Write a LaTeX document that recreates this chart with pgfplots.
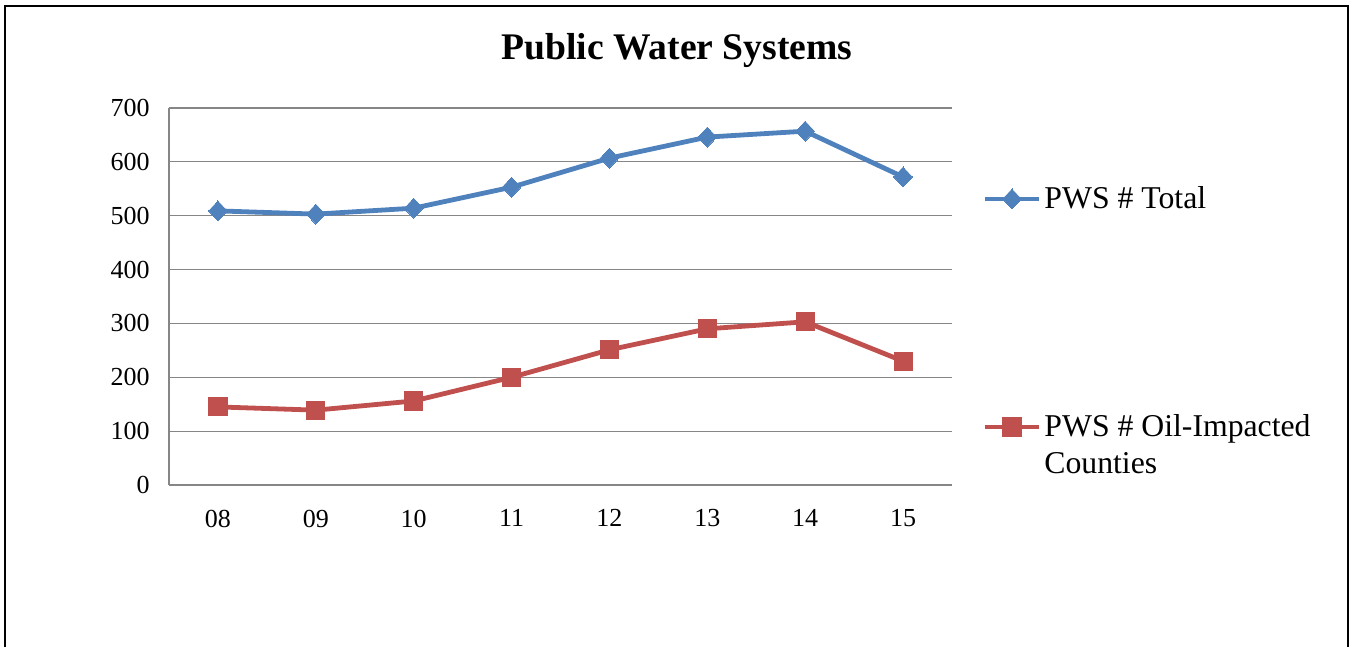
\documentclass[border=0pt]{standalone}
\usepackage{pgfplots}
\pgfplotsset{compat=1.18}
\usepackage{fontspec}
\setmainfont{Liberation Serif}
\definecolor{pwsblue}{HTML}{4F81BD}
\definecolor{pwsred}{HTML}{C0504D}
\definecolor{gridgray}{HTML}{868686}
\begin{document}
\begin{tikzpicture}[x=0.75pt,y=0.75pt]
\useasboundingbox (0,0) rectangle (1351,647);
\draw[line width=1.6pt,black] (5,0) -- (5,641) -- (1348,641) -- (1348,0);
\node[font=\fontsize{28.2}{32}\selectfont\bfseries] at (677,596) {Public Water Systems};
\begin{axis}[
  at={(126.75pt,121.5pt)}, anchor=south west,
  scale only axis, width=587.25pt, height=282.75pt,
  xmin=-0.5, xmax=7.5, ymin=0, ymax=700,
  xtick={0,1,2,3,4,5,6,7},
  xticklabels={08,09,10,11,12,13,14,15},
  ytick={0,100,...,700},
  major tick length=0pt,
  axis x line*=bottom, axis y line*=left,
  axis line style={gridgray, line width=0.9pt},
  ymajorgrids, major grid style={gridgray, line width=0.9pt},
  tick label style={font=\fontsize{19.5}{22}\selectfont},
  /pgf/number format/assume math mode=true,
  yticklabel shift=11pt, xticklabel shift=15pt,
  legend cell align=left,
  legend style={draw=none, fill=none, at={(1,1)}, anchor=north west,
    xshift=22.5pt, yshift=-57pt, inner sep=0pt,
    font=\fontsize{23.8}{27}\selectfont,
    row sep=149pt,
    nodes={inner sep=2pt}},
  legend image code/.code={\draw[#1, mark repeat=2, mark phase=2] plot coordinates {(0pt,0pt) (20.5pt,0pt) (41pt,0pt)};},
]
\addplot[pwsblue, line width=3.6pt, mark=diamond*, mark size=7.5pt, mark options={solid, fill=pwsblue, draw=pwsblue, line width=0pt, xscale=1.25}]
  coordinates {(0,509) (1,503) (2,514) (3,553) (4,607) (5,646) (6,657) (7,572)};
\addlegendentry{PWS \# Total}
\addplot[pwsred, line width=3.6pt, mark=square*, mark size=6.8pt, mark options={solid, fill=pwsred, draw=pwsred, line width=0pt}]
  coordinates {(0,145) (1,139) (2,156) (3,200) (4,251) (5,290) (6,303) (7,230)};
\addlegendentry{\makebox[0pt][l]{\raisebox{-1.15em}[0pt][0pt]{Counties}}PWS \# Oil-Impacted}
\end{axis}
\end{tikzpicture}
\end{document}
